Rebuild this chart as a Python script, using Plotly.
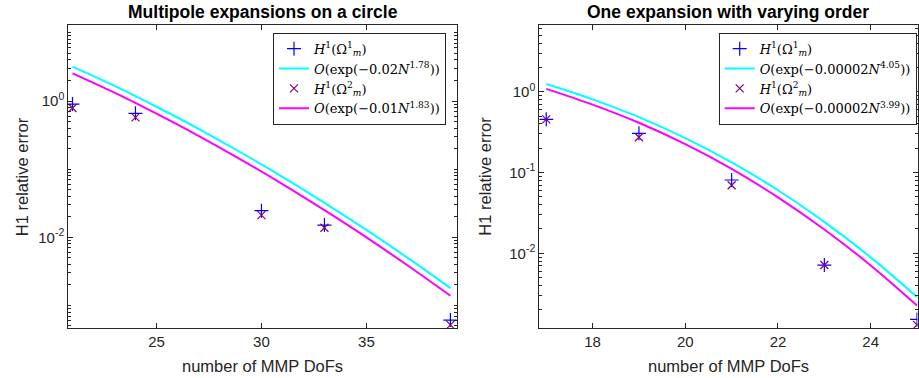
import plotly.graph_objects as go

# ---------------- data ----------------
left_N = [21, 24, 30, 33, 39]
left_h1 = [0.90, 0.66, 0.0246, 0.0151, 6.1e-4]
left_h2 = [0.79, 0.576, 0.0212, 0.0138, 5.2e-4]
left_fit_N = [21, 23, 25, 27, 29, 31, 33, 35, 37, 39]
left_fit1 = [3.19, 1.665, 0.823, 0.391, 0.177, 0.0772, 0.0321, 0.01283, 0.0049, 0.0018]
left_fit2 = [2.55, 1.327, 0.653, 0.309, 0.1393, 0.0604, 0.0250, 0.00997, 0.00379, 0.001386]

right_N = [17, 19, 21, 23, 25]
right_h1 = [0.455, 0.305, 0.0807, 0.00716, 0.00152]
right_h2 = [0.455, 0.273, 0.0695, 0.00716, 0.0013]
right_fit_N = [17, 18, 19, 20, 21, 22, 23, 24, 25]
right_fit1 = [1.245, 0.804, 0.484, 0.266, 0.1334, 0.0603, 0.0245, 0.00891, 0.00288]
right_fit2 = [1.084, 0.692, 0.412, 0.224, 0.111, 0.0493, 0.0197, 0.00708, 0.00226]

left_title = "Multipole expansions on a circle"
right_title = "One expansion with varying order"
x_label = "number of MMP DoFs"
y_label = "H1 relative error"

left_legend = ["<i>H</i><sup>1</sup>(Ω<sup>1</sup><sub><i>m</i></sub>)",
               "<i>O</i>(exp(−0.02<i>N</i><sup>1.78</sup>))",
               "<i>H</i><sup>1</sup>(Ω<sup>2</sup><sub><i>m</i></sub>)",
               "<i>O</i>(exp(−0.01<i>N</i><sup>1.83</sup>))"]
right_legend = ["<i>H</i><sup>1</sup>(Ω<sup>1</sup><sub><i>m</i></sub>)",
                "<i>O</i>(exp(−0.00002<i>N</i><sup>4.05</sup>))",
                "<i>H</i><sup>1</sup>(Ω<sup>2</sup><sub><i>m</i></sub>)",
                "<i>O</i>(exp(−0.00002<i>N</i><sup>3.99</sup>))"]

left_yticks = [1, 0.01]
left_yticktext = ["10<sup>0</sup>", "10<sup>-2</sup>"]
right_yticks = [1, 0.1, 0.01]
right_yticktext = ["10<sup>0</sup>", "10<sup>-1</sup>", "10<sup>-2</sup>"]
left_xticks = [25, 30, 35]
right_xticks = [18, 20, 22, 24]

W, H = 919, 378
AX = "#262626"
BLUE = "#0000FF"
PURPLE = "#800080"
CYAN = "#00FFFF"
MAGENTA = "#FF00FF"
SANS = "Liberation Sans, Arial, sans-serif"
SERIF = "DejaVu Serif, Liberation Serif, serif"

minor_vals = [m * 10.0 ** k for k in range(-4, 2) for m in range(1, 10)]

fig = go.Figure()


def add_panel(xa, ya, legend, N, h1, h2, fN, f1, f2, labels):
    fig.add_trace(go.Scatter(x=N, y=h1, mode="markers", name=labels[0], xaxis=xa, yaxis=ya,
                             legend=legend,
                             marker=dict(symbol="cross-thin", size=10, line=dict(color=BLUE, width=1.2))))
    fig.add_trace(go.Scatter(x=fN, y=f1, mode="lines", name=labels[1], xaxis=xa, yaxis=ya,
                             legend=legend, line=dict(color=CYAN, width=2, shape="spline")))
    fig.add_trace(go.Scatter(x=N, y=h2, mode="markers", name=labels[2], xaxis=xa, yaxis=ya,
                             legend=legend,
                             marker=dict(symbol="x-thin", size=8, line=dict(color=PURPLE, width=1.2))))
    fig.add_trace(go.Scatter(x=fN, y=f2, mode="lines", name=labels[3], xaxis=xa, yaxis=ya,
                             legend=legend, line=dict(color=MAGENTA, width=2, shape="spline")))


add_panel("x", "y", "legend", left_N, left_h1, left_h2, left_fit_N, left_fit1, left_fit2, left_legend)
add_panel("x2", "y2", "legend2", right_N, right_h1, right_h2, right_fit_N, right_fit1, right_fit2, right_legend)

y0 = (H - 328.3) / H
y1 = (H - 25) / H
Ld = [68.3 / W, 456.7 / W]
Rd = [539.3 / W, 917.5 / W]

common_axis = dict(showline=True, linecolor=AX, linewidth=1, mirror="ticks", ticks="inside",
                   tickcolor=AX, ticklen=5, tickwidth=1, showgrid=False, zeroline=False,
                   tickfont=dict(family=SANS, size=15, color=AX))

legend_common = dict(yanchor="top", xanchor="right", bgcolor="white", bordercolor=AX, borderwidth=1,
                     itemwidth=30, font=dict(family=SERIF, size=13, color="black"), tracegroupgap=0)

fig.update_layout(
    width=W, height=H, margin=dict(l=0, r=0, t=0, b=0),
    paper_bgcolor="white", plot_bgcolor="white", showlegend=True,
    xaxis=dict(domain=Ld, anchor="y", range=[20.8, 39.3], tickmode="array", tickvals=left_xticks,
               **common_axis),
    yaxis=dict(domain=[y0, y1], anchor="x", type="log", range=[-3.335, 1.115], tickmode="array",
               tickvals=left_yticks, ticktext=left_yticktext,
               minor=dict(tickmode="array", tickvals=minor_vals, ticks="inside", ticklen=3,
                          tickcolor=AX, showgrid=False),
               **common_axis),
    xaxis2=dict(domain=Rd, anchor="y2", range=[16.85, 25.01], tickmode="array", tickvals=right_xticks,
                **common_axis),
    yaxis2=dict(domain=[y0, y1], anchor="x2", type="log", range=[-2.928, 0.825], tickmode="array",
                tickvals=right_yticks, ticktext=right_yticktext,
                minor=dict(tickmode="array", tickvals=minor_vals, ticks="inside", ticklen=3,
                           tickcolor=AX, showgrid=False),
                **common_axis),
    legend=dict(x=446 / W, y=(H - 32.7) / H, **legend_common),
    legend2=dict(x=916.7 / W, y=(H - 32.7) / H, **legend_common),
)

for text, xc in [(left_title, (Ld[0] + Ld[1]) / 2), (right_title, (Rd[0] + Rd[1]) / 2)]:
    fig.add_annotation(text="<b>%s</b>" % text, x=xc, y=(H - 12) / H, xref="paper", yref="paper",
                       xanchor="center", yanchor="middle", showarrow=False,
                       font=dict(family=SANS, size=17.5, color="black"))
for xc in [(Ld[0] + Ld[1]) / 2, (Rd[0] + Rd[1]) / 2]:
    fig.add_annotation(text=x_label, x=xc, y=(H - 365.7) / H, xref="paper", yref="paper",
                       xanchor="center", yanchor="middle", showarrow=False,
                       font=dict(family=SANS, size=16.5, color=AX))
for xc in [21.5, 485]:
    fig.add_annotation(text=y_label, x=xc / W, y=(y0 + y1) / 2, xref="paper", yref="paper",
                       xanchor="center", yanchor="middle", showarrow=False, textangle=-90,
                       font=dict(family=SANS, size=16.5, color=AX))

fig.write_html("out.html")
